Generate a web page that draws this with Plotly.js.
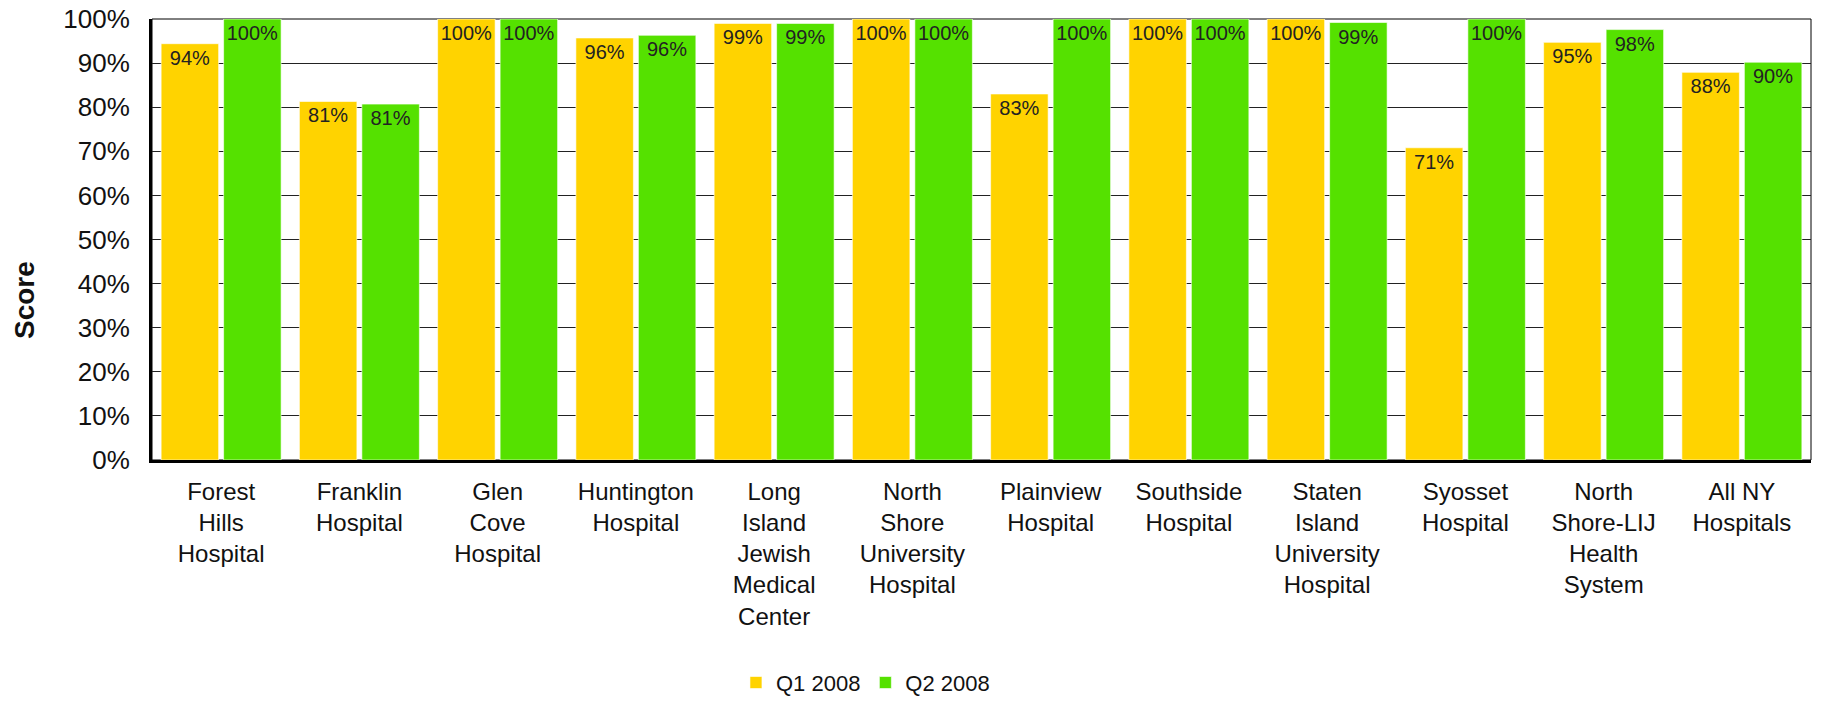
<!DOCTYPE html>
<html>
<head>
<meta charset="utf-8">
<script src="https://cdn.plot.ly/plotly-3.0.1.min.js"></script>
<style>
  html, body { margin: 0; padding: 0; background: #fff; }
  #chart { width: 1822px; height: 702px; }
</style>
</head>
<body>
<div id="chart"></div>
<script>
// ---- data ----
const categories = [
  "Forest<br>Hills<br>Hospital",
  "Franklin<br>Hospital",
  "Glen<br>Cove<br>Hospital",
  "Huntington<br>Hospital",
  "Long<br>Island<br>Jewish<br>Medical<br>Center",
  "North<br>Shore<br>University<br>Hospital",
  "Plainview<br>Hospital",
  "Southside<br>Hospital",
  "Staten<br>Island<br>University<br>Hospital",
  "Syosset<br>Hospital",
  "North<br>Shore-LIJ<br>Health<br>System",
  "All NY<br>Hospitals"
];
const seriesNames = ["Q1 2008", "Q2 2008"];
const q1Values = [94.4, 81.3, 100, 95.7, 99.0, 100, 83.0, 100, 100, 70.8, 94.7, 87.9];
const q2Values = [100, 80.7, 100, 96.3, 99.0, 100, 100, 100, 99.2, 100, 97.6, 90.2];
const yTickValues = [0, 10, 20, 30, 40, 50, 60, 70, 80, 90, 100];
const yAxisTitle = "Score";

// ---- styles ----
const FONT = "Liberation Sans, Arial, Helvetica, sans-serif";
const colors = ["#FFD300", "#55E100"];

const xIdx = categories.map((c, i) => i);

function barTrace(name, values, color) {
  return {
    type: "bar",
    name: name,
    x: xIdx,
    y: values,
    marker: { color: color, line: { color: "rgba(255,255,255,0.6)", width: 1 } },
    texttemplate: "%{y:.0f}%",
    textposition: "inside",
    insidetextanchor: "end",
    textangle: 0,
    constraintext: "none",
    insidetextfont: { family: FONT, size: 20, color: "#222" },
    hoverinfo: "skip"
  };
}

const data = [
  barTrace(seriesNames[0], q1Values, colors[0]),
  barTrace(seriesNames[1], q2Values, colors[1])
];

const layout = {
  width: 1822,
  height: 702,
  margin: { l: 152, r: 11, t: 19, b: 242, autoexpand: false },
  paper_bgcolor: "#fff",
  plot_bgcolor: "#fff",
  barmode: "group",
  bargap: 0.096,
  bargroupgap: 0.08,
  font: { family: FONT, color: "#111" },
  showlegend: true,
  legend: {
    orientation: "h",
    x: 0.352, xanchor: "left",
    y: -0.505, yanchor: "middle",
    font: { family: FONT, size: 22, color: "#111" },
    itemwidth: 30,
    traceorder: "normal"
  },
  xaxis: {
    tickmode: "array",
    tickvals: xIdx,
    ticktext: categories,
    range: [-0.5, categories.length - 0.5],
    tickfont: { family: FONT, size: 24, color: "#111" },
    showline: true,
    linecolor: "#000",
    linewidth: 3,
    ticks: "",
    showgrid: false,
    zeroline: false,
    automargin: false,
    ticklabelstandoff: 8,
    fixedrange: true
  },
  yaxis: {
    range: [0, 100],
    tickmode: "array",
    tickvals: yTickValues,
    ticktext: yTickValues.map(v => v + "%"),
    tickfont: { family: FONT, size: 26, color: "#111" },
    showline: true,
    linecolor: "#000",
    linewidth: 3,
    ticks: "",
    ticklabelstandoff: 14,
    showgrid: true,
    gridcolor: "#222",
    gridwidth: 1,
    zeroline: false,
    automargin: false,
    fixedrange: true
  },
  shapes: [
    { type: "rect", xref: "paper", yref: "paper", x0: 0, x1: 1, y0: 0, y1: 1,
      line: { color: "#000", width: 1 }, layer: "below" }
  ],
  annotations: [
    { text: "<b>" + yAxisTitle + "</b>", xref: "paper", yref: "paper",
      x: -0.0765, y: 0.363, xanchor: "center", yanchor: "middle",
      textangle: -90, showarrow: false,
      font: { family: FONT, size: 28, color: "#111" } }
  ]
};

Plotly.newPlot("chart", data, layout, { displayModeBar: false, staticPlot: true });
</script>
</body>
</html>
